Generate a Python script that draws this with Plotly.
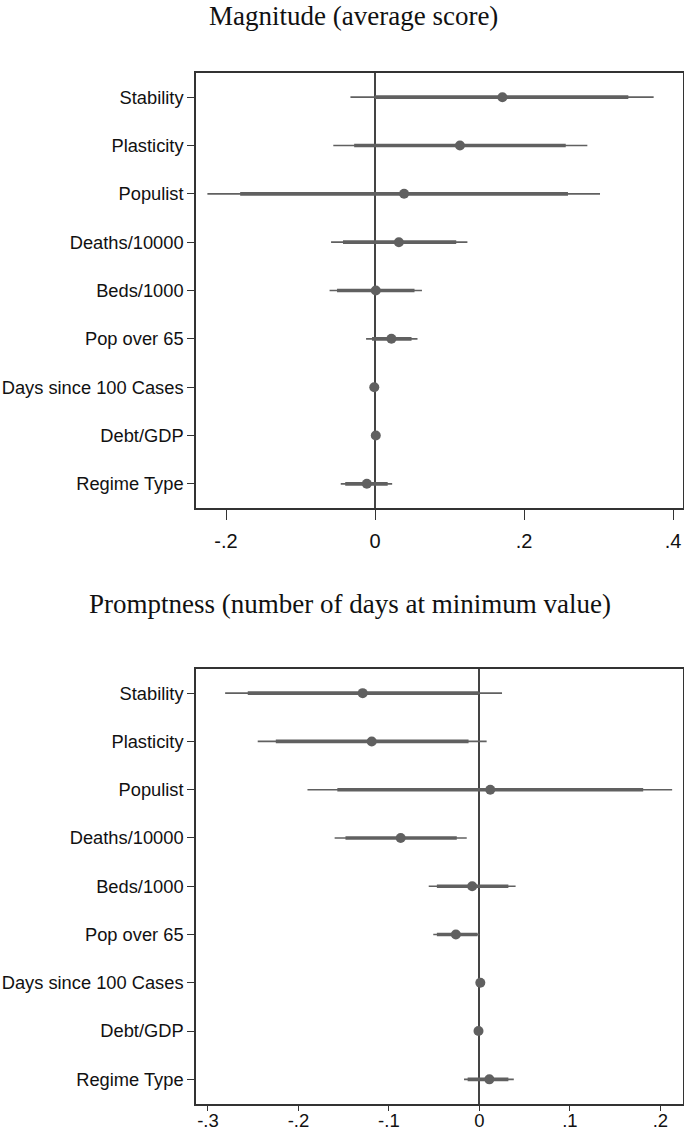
import plotly.graph_objects as go
from plotly.subplots import make_subplots

# ---- data ----
variables = ["Stability", "Plasticity", "Populist", "Deaths/10000", "Beds/1000",
             "Pop over 65", "Days since 100 Cases", "Debt/GDP", "Regime Type"]

# Magnitude (average score)
mag_coef = [0.171, 0.114, 0.039, 0.032, 0.001, 0.022, -0.001, 0.001, -0.011]
mag_lo90 = [0.000, -0.028, -0.181, -0.043, -0.051, -0.004, -0.002, 0.000, -0.040]
mag_hi90 = [0.340, 0.256, 0.259, 0.109, 0.053, 0.049, 0.000, 0.002, 0.017]
mag_lo95 = [-0.033, -0.056, -0.225, -0.059, -0.061, -0.012, -0.002, 0.000, -0.046]
mag_hi95 = [0.374, 0.285, 0.302, 0.124, 0.063, 0.057, 0.000, 0.002, 0.023]

# Promptness (number of days at minimum value)
pro_coef = [-0.129, -0.119, 0.012, -0.087, -0.008, -0.026, 0.001, -0.001, 0.011]
pro_lo90 = [-0.256, -0.225, -0.157, -0.148, -0.047, -0.047, 0.000, -0.002, -0.013]
pro_hi90 = [-0.001, -0.012, 0.181, -0.025, 0.032, -0.002, 0.002, 0.000, 0.032]
pro_lo95 = [-0.281, -0.245, -0.190, -0.160, -0.056, -0.051, 0.000, -0.002, -0.017]
pro_hi95 = [0.025, 0.008, 0.213, -0.014, 0.040, 0.000, 0.002, 0.000, 0.038]

titles = ["Magnitude (average score)", "Promptness (number of days at minimum value)"]
top_ticks = [-0.2, 0, 0.2, 0.4]
top_ticktext = ["-.2", "0", ".2", ".4"]
bot_ticks = [-0.3, -0.2, -0.1, 0, 0.1, 0.2]
bot_ticktext = ["-.3", "-.2", "-.1", "0", ".1", ".2"]

COL = "#606060"
W, H = 684, 1131

fig = make_subplots(rows=2, cols=1)


def seg(lo, hi):
    xs, ys = [], []
    for a, b, v in zip(lo, hi, variables):
        xs += [a, b, None]
        ys += [v, v, None]
    return xs, ys


for row, (coef, lo90, hi90, lo95, hi95) in enumerate(
        [(mag_coef, mag_lo90, mag_hi90, mag_lo95, mag_hi95),
         (pro_coef, pro_lo90, pro_hi90, pro_lo95, pro_hi95)], start=1):
    x, y = seg(lo95, hi95)
    fig.add_trace(go.Scatter(x=x, y=y, mode="lines", line=dict(color=COL, width=1.6),
                             showlegend=False, hoverinfo="skip"), row=row, col=1)
    x, y = seg(lo90, hi90)
    fig.add_trace(go.Scatter(x=x, y=y, mode="lines", line=dict(color=COL, width=3.6),
                             showlegend=False, hoverinfo="skip"), row=row, col=1)
    fig.add_trace(go.Scatter(x=coef, y=variables, mode="markers",
                             marker=dict(color=COL, size=10, line=dict(width=0)),
                             showlegend=False), row=row, col=1)

# layout geometry (pixels -> paper)
xd = [196 / W, 683 / W]
top_dom = [1 - 508 / H, 1 - 73 / H]
bot_dom = [1 - 1103.5 / H, 1 - 669 / H]

axis_common = dict(showline=True, mirror=True, linecolor="#333333", linewidth=1.5,
                   ticks="outside", ticklen=7, tickwidth=1, tickcolor="#333333",
                   showgrid=False, automargin=False)

fig.update_xaxes(**axis_common, tickfont=dict(family="Liberation Sans", size=20, color="#111111"))
fig.update_yaxes(**axis_common, tickfont=dict(family="Liberation Sans", size=18.3, color="#111111"))

fig.update_xaxes(domain=xd, range=[-0.2403, 0.4134], tickvals=top_ticks, ticktext=top_ticktext,
                 ticklen=10, ticklabelstandoff=4,
                 zeroline=True, zerolinecolor="#444444", zerolinewidth=1.5, row=1, col=1)
fig.update_xaxes(domain=xd, range=[-0.3132, 0.225], tickvals=bot_ticks, ticktext=bot_ticktext,
                 ticklen=6, ticklabelstandoff=-6,
                 tickfont=dict(family="Liberation Sans", size=18.5, color="#111111"),
                 zeroline=True, zerolinecolor="#444444", zerolinewidth=1.5, row=2, col=1)
fig.update_yaxes(domain=top_dom, type="category", categoryorder="array", categoryarray=variables,
                 range=[8.5, -0.5], row=1, col=1)
fig.update_yaxes(domain=bot_dom, type="category", categoryorder="array", categoryarray=variables,
                 range=[8.5, -0.5], row=2, col=1)

fig.add_annotation(text=titles[0], x=353.5 / W, y=1 - 16 / H, xref="paper", yref="paper",
                   showarrow=False, xanchor="center", yanchor="middle",
                   font=dict(family="Liberation Serif", size=27, color="#111111"))
fig.add_annotation(text=titles[1], x=350 / W, y=1 - 604 / H, xref="paper", yref="paper",
                   showarrow=False, xanchor="center", yanchor="middle",
                   font=dict(family="Liberation Serif", size=27, color="#111111"))

fig.update_layout(width=W, height=H, template="none",
                  margin=dict(l=0, r=0, t=0, b=0),
                  paper_bgcolor="white", plot_bgcolor="white")

fig.write_html("out.html", config={"displayModeBar": False},
               post_script="document.body.style.margin='0';document.body.style.overflow='hidden';")
